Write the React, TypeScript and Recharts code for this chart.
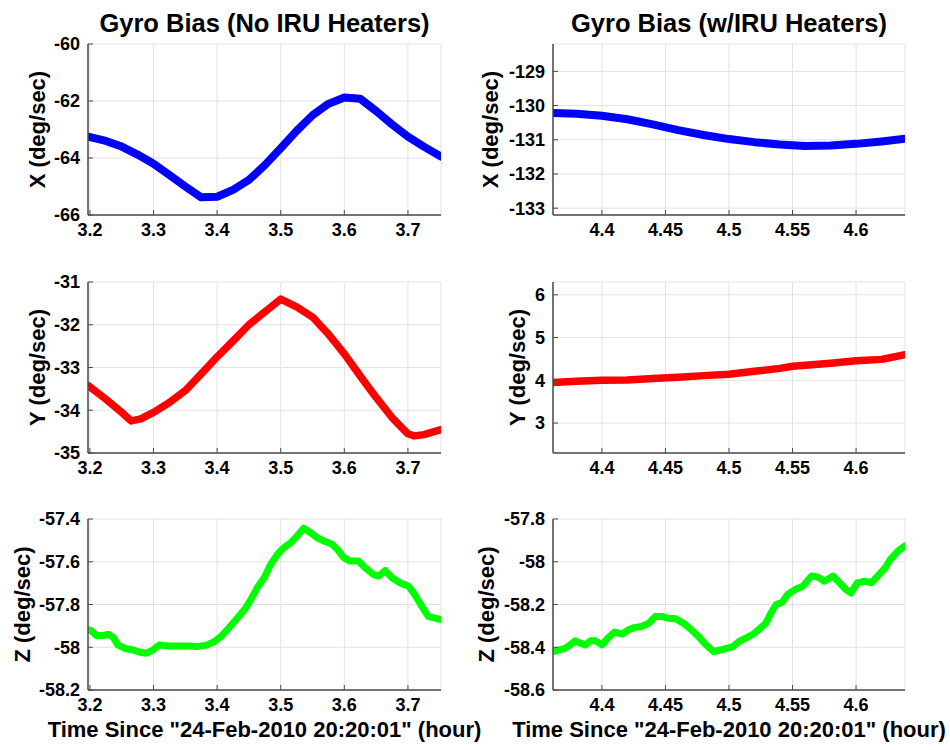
import { LineChart, Line, XAxis, YAxis, CartesianGrid } from "recharts";

// values
const noHeatXTime = [3.197, 3.225, 3.25, 3.275, 3.3, 3.325, 3.35, 3.375, 3.4, 3.425, 3.45, 3.475, 3.5, 3.525, 3.55, 3.575, 3.6, 3.625, 3.65, 3.675, 3.7, 3.725, 3.752];
const noHeatX = [-63.25, -63.4, -63.6, -63.88, -64.2, -64.6, -65.0, -65.38, -65.36, -65.12, -64.77, -64.25, -63.66, -63.05, -62.5, -62.1, -61.88, -61.92, -62.35, -62.82, -63.25, -63.6, -63.95];

const noHeatYTime = [3.197, 3.225, 3.25, 3.265, 3.28, 3.3, 3.325, 3.35, 3.375, 3.4, 3.425, 3.45, 3.475, 3.5, 3.525, 3.55, 3.575, 3.6, 3.625, 3.65, 3.675, 3.7, 3.71, 3.725, 3.752];
const noHeatY = [-33.42, -33.74, -34.05, -34.25, -34.2, -34.05, -33.82, -33.54, -33.15, -32.75, -32.38, -32.0, -31.7, -31.4, -31.58, -31.82, -32.22, -32.68, -33.2, -33.7, -34.17, -34.55, -34.6, -34.57, -34.45];

const noHeatZTime = [3.197, 3.2025, 3.21, 3.221, 3.229, 3.237, 3.244, 3.255, 3.268, 3.281, 3.289, 3.299, 3.309, 3.323, 3.338, 3.354, 3.369, 3.385, 3.396, 3.406, 3.416, 3.432, 3.445, 3.453, 3.463, 3.474, 3.484, 3.495, 3.505, 3.516, 3.526, 3.536, 3.547, 3.557, 3.568, 3.581, 3.589, 3.599, 3.609, 3.622, 3.633, 3.646, 3.654, 3.664, 3.675, 3.688, 3.701, 3.711, 3.722, 3.732, 3.752];
const noHeatZ = [-57.918, -57.923, -57.945, -57.945, -57.939, -57.955, -57.989, -58.005, -58.013, -58.025, -58.028, -58.013, -57.989, -57.994, -57.994, -57.994, -57.997, -57.989, -57.973, -57.95, -57.918, -57.863, -57.816, -57.777, -57.722, -57.675, -57.613, -57.565, -57.534, -57.511, -57.479, -57.443, -57.464, -57.487, -57.503, -57.518, -57.542, -57.581, -57.597, -57.597, -57.628, -57.66, -57.667, -57.641, -57.675, -57.699, -57.715, -57.754, -57.809, -57.856, -57.871];

const heatXTime = [4.3615, 4.38, 4.4, 4.42, 4.44, 4.46, 4.48, 4.5, 4.52, 4.54, 4.56, 4.58, 4.6, 4.62, 4.6385];
const heatX = [-130.22, -130.24, -130.3, -130.4, -130.55, -130.72, -130.86, -130.98, -131.07, -131.14, -131.18, -131.17, -131.12, -131.05, -130.97];

const heatYTime = [4.3615, 4.38, 4.4, 4.42, 4.44, 4.46, 4.48, 4.5, 4.52, 4.54, 4.55, 4.56, 4.58, 4.6, 4.62, 4.6385];
const heatY = [3.95, 3.98, 4.0, 4.01, 4.04, 4.07, 4.11, 4.14, 4.21, 4.28, 4.33, 4.35, 4.4, 4.46, 4.49, 4.6];

const heatZTime = [4.3616, 4.366, 4.371, 4.375, 4.379, 4.383, 4.387, 4.391, 4.395, 4.4, 4.405, 4.41, 4.416, 4.421, 4.426, 4.431, 4.437, 4.442, 4.447, 4.452, 4.458, 4.464, 4.469, 4.476, 4.482, 4.488, 4.493, 4.498, 4.503, 4.508, 4.514, 4.519, 4.524, 4.529, 4.533, 4.537, 4.542, 4.546, 4.552, 4.558, 4.565, 4.57, 4.575, 4.582, 4.587, 4.592, 4.596, 4.601, 4.607, 4.612, 4.617, 4.623, 4.627, 4.633, 4.6385];
const heatZ = [-58.42, -58.413, -58.405, -58.389, -58.37, -58.381, -58.389, -58.37, -58.37, -58.389, -58.355, -58.329, -58.338, -58.318, -58.307, -58.303, -58.287, -58.256, -58.256, -58.264, -58.267, -58.287, -58.311, -58.35, -58.389, -58.42, -58.413, -58.405, -58.397, -58.373, -58.355, -58.339, -58.314, -58.287, -58.24, -58.201, -58.188, -58.154, -58.13, -58.115, -58.067, -58.072, -58.091, -58.067, -58.099, -58.13, -58.146, -58.099, -58.091, -58.099, -58.067, -58.028, -57.989, -57.95, -57.926];

const leftTicks = [3.2, 3.3, 3.4, 3.5, 3.6, 3.7];
const rightTicks = [4.4, 4.45, 4.5, 4.55, 4.6];
const leftDomain: [number, number] = [3.197, 3.752];
const rightDomain: [number, number] = [4.3615, 4.6385];

const titles = ["Gyro Bias (No IRU Heaters)", "Gyro Bias (w/IRU Heaters)"];
const timeLabel = 'Time Since "24-Feb-2010 20:20:01" (hour)';

const FONT = '"Liberation Sans", Arial, sans-serif';
const BOX = "#4a4a4a";

const zip = (t: number[], v: number[]) => t.map((x, i) => ({ t: x, v: v[i] }));
const fmt = (v: number) => String(Number(v.toFixed(2)));

interface PanelProps {
  left: number;
  top: number;
  col: number;
  data: { t: number; v: number }[];
  color: string;
  lineWidth: number;
  yDomain: [number, number];
  yTicks: number[];
  yLabel: string;
  yLabelX: number;
  title?: string;
  xLabel?: string;
}

function Panel({ left, top, col, data, color, lineWidth, yDomain, yTicks, yLabel, yLabelX, title, xLabel }: PanelProps) {
  const xDomain = col === 0 ? leftDomain : rightDomain;
  const xTicks = col === 0 ? leftTicks : rightTicks;
  const yWidth = col === 0 ? 88 : 93;
  const rightMargin = col === 0 ? 49 : 45;
  const plotW = 490 - yWidth - rightMargin;
  const tickStyle = { fill: "#000", fontSize: 18, fontWeight: "bold", fontFamily: FONT };
  return (
    <div style={{ position: "absolute", left, top }}>
      {title && (
        <svg width={490} height={44} style={{ position: "absolute", left: 0, top: 0, overflow: "visible" }}>
          <text x={yWidth + plotW / 2} y={32} textAnchor="middle" fill="#000"
            style={{ fontSize: 25.5, fontWeight: "bold", fontFamily: FONT }}>
            {title}
          </text>
        </svg>
      )}
      <LineChart width={490} height={275} data={data} margin={{ top: 44, right: rightMargin, bottom: 0, left: 0 }}>
        <CartesianGrid stroke="#e2e2e2" strokeWidth={1} />
        <XAxis
          dataKey="t"
          type="number"
          domain={xDomain}
          ticks={xTicks}
          allowDataOverflow
          height={60}
          tick={tickStyle}
          tickFormatter={fmt}
          tickSize={-5}
          tickMargin={13}
          axisLine={{ stroke: BOX, strokeWidth: 1.5 }}
          tickLine={{ stroke: BOX }}
          label={xLabel ? { value: xLabel, position: "insideBottom", offset: 13, fill: "#000", style: { fontSize: 22, fontWeight: "bold", fontFamily: FONT } } : undefined}
        />
        <XAxis
          xAxisId="top"
          orientation="top"
          type="number"
          domain={xDomain}
          ticks={xTicks}
          allowDataOverflow
          height={0}
          mirror
          tick={false}
          tickSize={5}
          axisLine={{ stroke: BOX, strokeWidth: 1.5 }}
          tickLine={{ stroke: BOX }}
        />
        <YAxis
          type="number"
          domain={yDomain}
          ticks={yTicks}
          allowDataOverflow
          width={yWidth}
          tick={tickStyle}
          tickFormatter={fmt}
          tickSize={-5}
          tickMargin={13}
          axisLine={{ stroke: BOX, strokeWidth: 1.5 }}
          tickLine={{ stroke: BOX }}
          label={{ value: yLabel, angle: -90, position: "insideLeft", offset: yLabelX, fill: "#000", style: { textAnchor: "middle", fontSize: 22, fontWeight: "bold", fontFamily: FONT } }}
        />
        <YAxis
          yAxisId="right"
          orientation="right"
          type="number"
          domain={yDomain}
          ticks={yTicks}
          allowDataOverflow
          width={0}
          mirror
          tick={false}
          tickSize={5}
          axisLine={{ stroke: BOX, strokeWidth: 1.5 }}
          tickLine={{ stroke: BOX }}
        />
        <Line
          type="linear"
          dataKey="v"
          stroke={color}
          strokeWidth={lineWidth}
          strokeLinejoin="round"
          strokeLinecap="round"
          dot={false}
          isAnimationActive={false}
        />
      </LineChart>
    </div>
  );
}

export default function App() {
  return (
    <div style={{ position: "absolute", left: 0, top: 0, width: 950, height: 750, background: "#fff", fontFamily: FONT, overflow: "hidden" }}>
      <Panel left={0} top={475} col={0} data={zip(noHeatZTime, noHeatZ)} color="#00ff00" lineWidth={7}
        yDomain={[-58.2, -57.4]} yTicks={[-58.2, -58, -57.8, -57.6, -57.4]} yLabel="Z (deg/sec)" yLabelX={22} xLabel={timeLabel} />
      <Panel left={460} top={475} col={1} data={zip(heatZTime, heatZ)} color="#00ff00" lineWidth={7}
        yDomain={[-58.6, -57.8]} yTicks={[-58.6, -58.4, -58.2, -58, -57.8]} yLabel="Z (deg/sec)" yLabelX={26} xLabel={timeLabel} />
      <Panel left={0} top={238} col={0} data={zip(noHeatYTime, noHeatY)} color="#ff0000" lineWidth={7.5}
        yDomain={[-35, -31]} yTicks={[-35, -34, -33, -32, -31]} yLabel="Y (deg/sec)" yLabelX={37} />
      <Panel left={460} top={238} col={1} data={zip(heatYTime, heatY)} color="#ff0000" lineWidth={7.5}
        yDomain={[2.3, 6.3]} yTicks={[3, 4, 5, 6]} yLabel="Y (deg/sec)" yLabelX={57} />
      <Panel left={0} top={0} col={0} data={zip(noHeatXTime, noHeatX)} color="#0000ff" lineWidth={8}
        yDomain={[-66, -60]} yTicks={[-66, -64, -62, -60]} yLabel="X (deg/sec)" yLabelX={37} title={titles[0]} />
      <Panel left={460} top={0} col={1} data={zip(heatXTime, heatX)} color="#0000ff" lineWidth={8}
        yDomain={[-133.2, -128.2]} yTicks={[-133, -132, -131, -130, -129]} yLabel="X (deg/sec)" yLabelX={30} title={titles[1]} />
    </div>
  );
}
